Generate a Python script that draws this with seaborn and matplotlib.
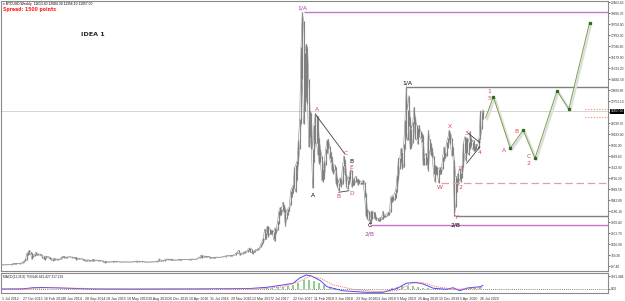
import matplotlib
matplotlib.use("Agg")
import matplotlib.pyplot as plt
import matplotlib.transforms as mtransforms
import numpy as np
import pandas as pd
import seaborn as sns

# ---- weekly BTCUSD bars (high / low) ----
# Jul 2012 .. Oct 2013 (broker history has gaps, 16 bars)
hi_early = [7, 9, 11, 12, 13, 14, 20, 32, 95, 145, 130, 125, 110, 105, 135, 160]
lo_early = [6, 7, 9, 10, 11, 12, 13, 19, 30, 70, 100, 90, 95, 90, 100, 130]
# from 27 Oct 2013, one value per week
hi_2013 = [230, 340, 440, 900, 1000, 1160, 1000, 950, 780, 830]
lo_2013 = [180, 210, 320, 400, 760, 870, 820, 450, 600, 720]
hi_2014 = [1000, 870, 860, 850, 830, 720, 700, 640, 700, 650, 640, 590, 500,
           470, 530, 500, 460, 450, 460, 530, 640, 680, 670, 620, 610, 650,
           640, 630, 630, 600, 600, 600, 530, 520, 490, 480, 480, 430, 410,
           380, 410, 390, 360, 380, 460, 400, 390, 380, 380, 360, 340, 330]
lo_2014 = [780, 800, 800, 780, 790, 580, 500, 400, 560, 620, 560, 450, 420,
           340, 400, 420, 420, 420, 430, 450, 560, 620, 560, 560, 580, 620,
           610, 610, 580, 570, 580, 420, 480, 470, 470, 470, 390, 380, 320,
           280, 370, 340, 320, 320, 350, 340, 360, 360, 340, 310, 310, 310]
hi_2015 = [320, 280, 300, 260, 240, 260, 250, 280, 300, 300, 290, 270, 260,
           260, 235, 240, 245, 245, 240, 245, 240, 230, 250, 260, 260, 290,
           310, 300, 295, 295, 285, 270, 260, 235, 240, 245, 235, 240, 245,
           250, 270, 285, 330, 500, 390, 340, 370, 400, 460, 465, 460, 440]
lo_2015 = [260, 170, 210, 220, 210, 215, 230, 235, 270, 280, 250, 240, 240,
           220, 215, 220, 230, 230, 230, 235, 220, 220, 225, 240, 240, 255,
           270, 270, 275, 280, 260, 260, 200, 210, 225, 225, 225, 230, 235,
           240, 245, 260, 280, 310, 300, 315, 320, 350, 390, 430, 420, 410]
hi_2016 = [460, 450, 420, 400, 390, 410, 440, 440, 440, 420, 420, 420, 425,
           425, 430, 460, 470, 460, 460, 460, 480, 580, 600, 770, 770, 690,
           700, 680, 680, 670, 620, 600, 590, 590, 610, 620, 610, 610, 610,
           620, 650, 660, 720, 740, 720, 750, 750, 770, 770, 790, 930, 1000]
lo_2016 = [420, 370, 360, 370, 360, 370, 400, 400, 400, 400, 410, 410, 410,
           415, 420, 425, 450, 440, 440, 440, 440, 520, 570, 590, 580, 600,
           640, 640, 640, 650, 530, 580, 570, 570, 570, 600, 600, 590, 600,
           610, 630, 630, 650, 690, 700, 700, 730, 730, 760, 770, 790, 900]
hi_2017 = [1150, 920, 930, 930, 1010, 1070, 1050, 1200, 1290, 1330, 1250, 1060,
           1110, 1200, 1210, 1270, 1350, 1600, 1800, 2100, 2800, 2500, 3000,
           3000, 2800, 2700, 2700, 2600, 2900, 2800, 3450, 4200, 4500, 4400,
           4900, 4700, 4400, 4100, 4400, 4500, 5800, 6000, 6200, 7600, 7800,
           8100, 9700, 11400, 17000, 19700, 19000, 16500, 17200]
lo_2017 = [900, 760, 830, 880, 920, 950, 990, 1050, 1140, 1000, 950, 890,
           1010, 1050, 1160, 1180, 1250, 1380, 1550, 1700, 2000, 2000, 2500,
           2200, 2400, 2400, 2450, 2000, 1850, 2500, 2700, 3200, 3900, 3900,
           4300, 4100, 3000, 3600, 3900, 4200, 4700, 5300, 5600, 6100, 5700,
           6600, 7900, 9000, 11000, 14500, 11000, 12000, 13000]
hi_2018 = [17000, 14500, 12000, 11800, 9000, 10900, 11800, 11600, 11600, 9900,
           9000, 8500, 7500, 8100, 9000, 9700, 9800, 9300, 8800, 8400, 7700,
           7800, 7600, 6800, 6400, 6800, 6700, 7700, 8500, 8200, 7100, 6600,
           6900, 7400, 7400, 6600, 6800, 6900, 6700, 6700, 6600, 6500, 6500,
           6600, 6500, 5600, 4400, 4200, 3600, 4200, 4200, 4100]
lo_2018 = [12500, 9200, 10000, 9000, 6000, 8000, 9500, 9500, 8600, 7900,
           8000, 6600, 6500, 6700, 7800, 8700, 9000, 8300, 8000, 7300, 7100,
           7400, 6300, 6100, 5800, 6300, 6100, 6300, 7700, 7000, 6100, 5900,
           6300, 6700, 6100, 6200, 6200, 6500, 6500, 6200, 6350, 6300, 6300,
           6300, 5300, 3800, 3600, 3500, 3200, 3300, 3600, 3700]
hi_2019 = [4100, 3700, 3650, 3550, 3700, 3700, 4200, 3900, 3900, 4000, 4100,
           4150, 5300, 5400, 5400, 5600, 5900, 7000, 8300, 8300, 9100, 8800,
           9400, 11300, 13900, 12100, 13200, 11500, 10600, 11100, 12300, 11500,
           10900, 10700, 10900, 10400, 10300, 10100, 8400, 8700, 8400, 10500,
           9800, 9500, 9100, 8500, 7800, 7700, 7600, 7500, 7600, 7500]
lo_2019 = [3600, 3500, 3500, 3400, 3400, 3550, 3600, 3700, 3700, 3800, 3900,
           3900, 4100, 4900, 5000, 5100, 5200, 5700, 6600, 7500, 8000, 7500,
           7600, 9000, 10000, 9700, 10800, 9000, 9100, 9500, 11000, 9800,
           9800, 9400, 10100, 9900, 9600, 7800, 7800, 7800, 7900, 7300,
           8900, 8600, 8400, 7100, 6500, 7100, 7000, 6400, 7100, 7100]
hi_2020 = [8400, 9200, 8800, 9600, 9900, 10500, 10300, 9900, 9200, 8200, 6900,
           6800, 7200, 7500, 7200, 7800, 9500, 10000, 9900, 9900, 9600, 10400,
           9900, 9600, 9700, 9300, 9400, 9300, 9900, 12000, 11900, 12100]
lo_2020 = [7500, 8100, 8300, 8500, 9100, 9700, 9400, 8500, 8600, 3850, 4500,
           5700, 6300, 6700, 6500, 6800, 7600, 8700, 8100, 8800, 8600, 9000,
           9300, 9000, 8900, 8900, 9000, 9000, 9100, 9800, 10600, 11350]
last_close = 11957.00

date_labels = ["1 Jul 2012", "27 Oct 2013", "16 Feb 2014", "8 Jun 2014",
               "28 Sep 2014", "18 Jan 2015", "10 May 2015", "30 Aug 2015",
               "20 Dec 2015", "10 Apr 2016", "31 Jul 2016", "20 Nov 2016",
               "12 Mar 2017", "2 Jul 2017", "22 Oct 2017", "11 Feb 2018",
               "3 Jun 2018", "23 Sep 2018", "13 Jan 2019", "5 May 2019",
               "25 Aug 2019", "15 Dec 2019", "5 Apr 2020", "26 Jul 2020"]

# projected wave path (bar index, price)
proj_i = [372, 378, 391, 401, 410, 427, 436, 452]
proj_p = [11450, 13100, 9090, 10510, 8310, 13580, 12130, 18870]

# wave levels
top_1a = 19666
top_1a_b = 13900
low_2b = 3122
low_2b_b = 3850
w_level = 6380
order_levels = [12170, 11550]

# MACD panel
macd_i = [0, 16, 24, 32, 44, 56, 72, 100, 150, 190, 204, 216, 224, 229, 234,
          238, 245, 250, 262, 280, 293, 304, 311, 318, 324, 332, 342, 347,
          352, 358, 368, 370]
macd_v = [0, 40, 300, 350, 250, 120, 0, -20, 20, 100, 400, 930, 1330, 2560,
          3260, 3020, 1930, 535, -400, -770, -770, 160, 1330, 1560, 1160, 160,
          -70, 300, -400, 230, 535, 860]
sig_i = [0, 16, 28, 40, 60, 80, 150, 200, 216, 229, 237, 245, 255, 270, 288,
         304, 315, 324, 334, 347, 358, 370]
sig_v = [0, 20, 200, 280, 160, 20, 10, 80, 500, 1770, 3020, 2480, 930, -70,
         -620, -390, 1330, 1470, 535, -70, 80, 300]
hist_i = [200, 204, 208, 212, 216, 220, 224, 228, 232, 236, 240, 244, 248,
          252, 256, 260, 296, 300, 304, 308, 312, 316, 320, 324, 328, 356,
          360, 364, 368]
hist_v = [100, 200, 300, 400, 500, 700, 1000, 1500, 2000, 2200, 1900, 1400,
          900, 500, 200, 50, 100, 300, 500, 700, 800, 700, 500, 300, 150, 100,
          200, 300, 400]

hi = hi_early + hi_2013 + hi_2014 + hi_2015 + hi_2016 + hi_2017 + hi_2018 + hi_2019 + hi_2020
lo = lo_early + lo_2013 + lo_2014 + lo_2015 + lo_2016 + lo_2017 + lo_2018 + lo_2019 + lo_2020
bars = pd.DataFrame({"hi": hi, "lo": lo})
bars["i"] = np.arange(len(bars))

sns.set_style("white")
plt.rcParams["font.family"] = ["DejaVu Sans"]
narrow = ["Liberation Sans Narrow", "Liberation Sans", "DejaVu Sans"]

W, H = 625, 301
fig = plt.figure(figsize=(W / 100, H / 100), dpi=100)
ax = fig.add_axes([1 / W, 30 / H, 607 / W, 270 / H])
ax2 = fig.add_axes([1 / W, 8 / H, 607 / W, 20 / H])
xmin, xmax = -0.8, 466.2

# current price line
ax.axhline(last_close, color="#d4d4d4", lw=0.7, zorder=0)

# price bars
ax.vlines(bars["i"], bars["lo"], bars["hi"], color="#808080", lw=0.85)
sns.lineplot(data=bars, x="i", y="hi", ax=ax, color="#8c8c8c", lw=0.4)
sns.lineplot(data=bars, x="i", y="lo", ax=ax, color="#8c8c8c", lw=0.4)

# levels
ax.hlines(top_1a, 232, xmax, color="#c678c6", lw=1.0)
ax.hlines(top_1a_b, 311, xmax, color="#808080", lw=1.0)
ax.hlines(low_2b, 283, xmax, color="#c678c6", lw=1.0)
ax.hlines(low_2b_b, 348.5, xmax, color="#808080", lw=1.0)
ax.hlines(w_level, 338, xmax, color="#e0a0a0", lw=0.9, ls=(0, (6, 3)))
for lv in order_levels:
    ax.hlines(lv, 448.5, xmax, color="#f08a5a", lw=0.8, ls=(0, (1, 1.5)))

# trend lines
ax.plot([241.5, 263.8], [11682, 8645], color="#404040", lw=0.6)
ax.plot([259, 267], [5662, 5786], color="#404040", lw=0.6)
ax.plot([357.5, 367.7], [7920, 9213], color="#404040", lw=0.6)
ax.plot([358.7, 367.7], [10255, 9525], color="#404040", lw=0.6)

# projection
shadow = mtransforms.offset_copy(ax.transData, fig=fig, x=1.5, y=-1.5, units="dots")
sns.lineplot(x=proj_i, y=proj_p, ax=ax, color="#dedede", lw=1.6, transform=shadow)
sns.lineplot(x=proj_i, y=proj_p, ax=ax, color="#7aa250", lw=0.7)
ax.plot(proj_i[1:], proj_p[1:], ls="none", marker="s", ms=1.4, color="#2f6a1f")

# wave labels
red = "#e04050"
labels = [
    ("1/A", 231, 20050, "#a040a0"), ("1/A", 311.5, 14150, "#000000"),
    ("2/B", 283, 2450, "#a040a0"), ("2/B", 348.5, 3100, "#000000"),
    ("A", 239, 5450, "#000000"), ("B", 269, 8050, "#000000"),
    ("C", 283, 3050, "#000000"),
    ("A", 242, 12100, red), ("C", 264.6, 8720, red), ("E", 269, 7630, red),
    ("D", 269, 5600, red), ("B", 259, 5370, red), ("W", 337, 6070, red),
    ("X", 344.6, 10750, red), ("Y", 349, 3700, red),
    ("1", 352, 7550, red), ("2", 353, 6070, red), ("3", 357, 10280, red),
    ("4", 367.7, 8800, red), ("1", 374.6, 13500, red), ("5", 374.6, 13000, red),
    ("A", 386, 8950, red), ("B", 396, 10360, red), ("C", 405, 8420, red),
    ("2", 405, 7940, red),
]
for s, xi, p, c in labels:
    ax.text(xi, p, s, color=c, fontsize=4.3, ha="center", va="center")

# header texts
fig.text(3 / W, 1 - 3.5 / H, "\u25be BTCUSD,Weekly  11613.80 12084.30 11356.10 11957.00",
         fontsize=2.4, color="black", va="center", ha="left", family=narrow)
fig.text(3 / W, 1 - 9.5 / H, "Spread: 1500 points", fontsize=3.3, color="#ff2020",
         fontweight="bold", va="center", ha="left")
fig.text(81 / W, 1 - 34 / H, "IDEA 1", fontsize=4.6, fontweight="bold", va="center", ha="left")

# price box
trans = mtransforms.blended_transform_factory(ax.transAxes, ax.transData)
ax.text(1.004, last_close, "%.2f" % last_close, transform=trans, fontsize=2.3,
        color="white", va="center", ha="left", family=narrow,
        bbox=dict(boxstyle="square,pad=0.15", fc="black", ec="none"))

ax.set_xlim(xmin, xmax)
ax.set_ylim(-467, 20560)
ax.yaxis.tick_right()
ticks = np.arange(-97.40, 20500, 856.70)
ax.set_yticks(ticks)
# the tick hidden behind the price box gets no label
ax.set_yticklabels(["" if abs(t - last_close) < 500 else "%.2f" % t for t in ticks],
                   family=narrow)
ax.tick_params(axis="y", labelsize=2.3, length=1.6, width=0.5, pad=0.5, colors="#303030", right=True)
ax.set_xticks([])
ax.set_xlabel("")
ax.set_ylabel("")
for sp in ax.spines.values():
    sp.set_color("#8a8a8a")
    sp.set_linewidth(0.8)

# MACD panel
ax2.axhline(0, color="#606060", lw=0.6, ls=(0, (1, 1.5)))
ax2.bar(hist_i, hist_v, width=1.6, color="#8fd08f", lw=0)
sns.lineplot(x=macd_i, y=macd_v, ax=ax2, color="#4a4aff", lw=0.7)
sns.lineplot(x=sig_i, y=sig_v, ax=ax2, color="#ff6a6a", lw=0.7, ls=(0, (1, 1)))
ax2.text(0.004, 0.8, "MACD(12,26,9) 759.646 442.427 317.219", transform=ax2.transAxes,
         fontsize=2.3, color="#202020", va="center", ha="left", family=narrow)
ax2.set_xlim(xmin, xmax)
ax2.set_ylim(-930, 3720)
ax2.yaxis.tick_right()
ax2.set_yticks([3021.48, 0.0])
ax2.set_yticklabels(["3021.484", "0.00"], family=narrow)
ax2.tick_params(axis="y", labelsize=2.3, length=1.6, width=0.5, pad=0.5, colors="#303030")
xt = np.arange(len(date_labels)) * 16
ax2.set_xticks(xt)
ax2.set_xticklabels(date_labels, family=narrow)
ax2.tick_params(axis="x", labelsize=2.6, length=2, width=0.5, pad=0.8, colors="#303030")
for t in ax2.get_xticklabels():
    t.set_ha("left")
ax2.set_xlabel("")
ax2.set_ylabel("")
for sp in ax2.spines.values():
    sp.set_color("#8a8a8a")
    sp.set_linewidth(0.8)

fig.savefig("out.png", dpi=100, facecolor="white")
